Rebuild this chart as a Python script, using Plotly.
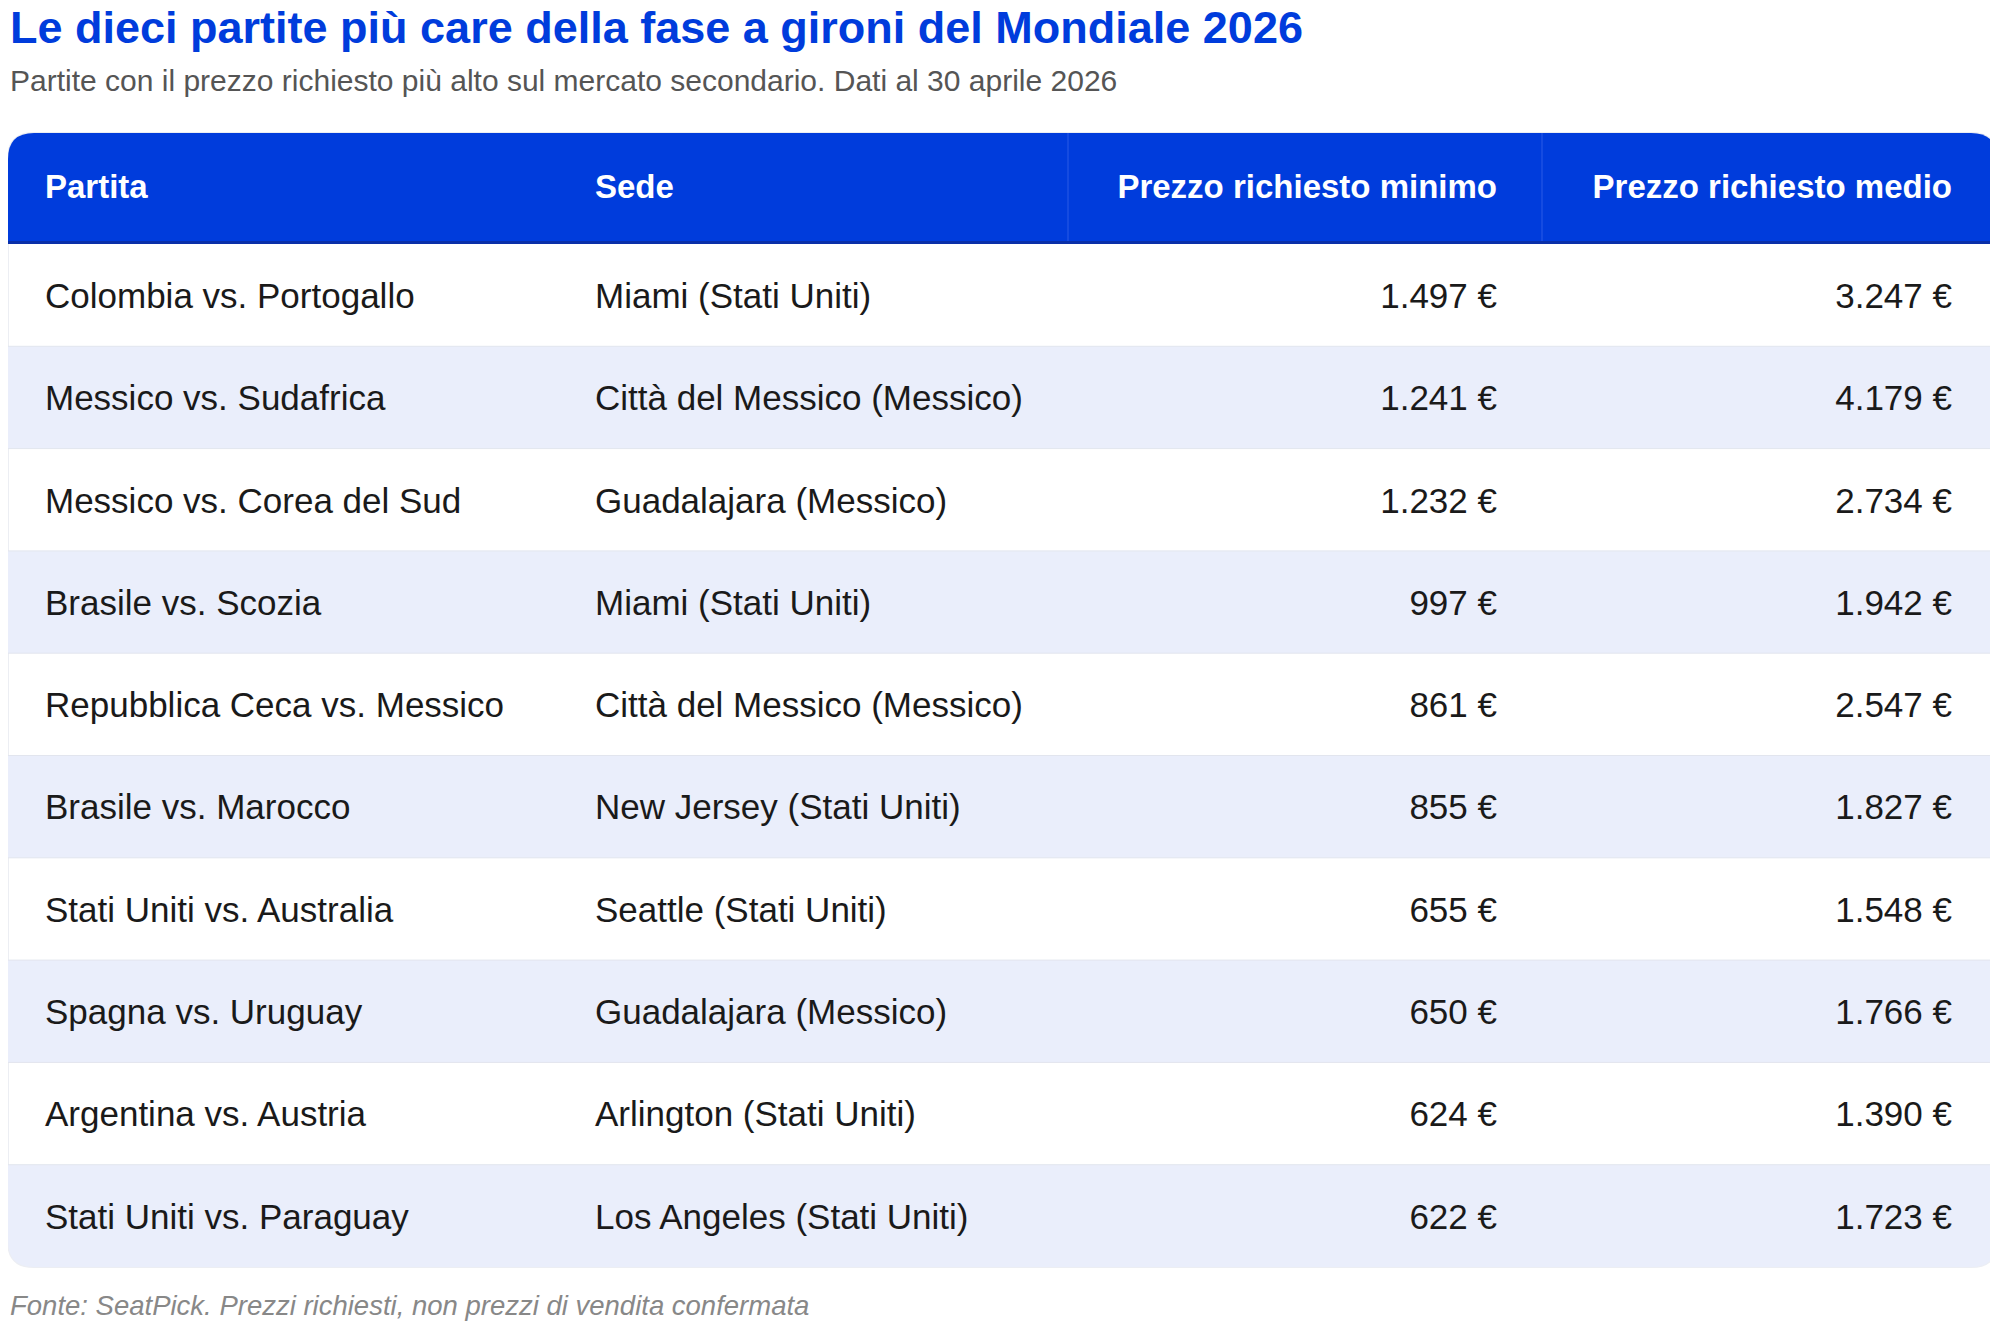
import plotly.graph_objects as go

partite = ["Colombia vs. Portogallo", "Messico vs. Sudafrica", "Messico vs. Corea del Sud",
           "Brasile vs. Scozia", "Repubblica Ceca vs. Messico", "Brasile vs. Marocco",
           "Stati Uniti vs. Australia", "Spagna vs. Uruguay", "Argentina vs. Austria",
           "Stati Uniti vs. Paraguay"]
sedi = ["Miami (Stati Uniti)", "Città del Messico (Messico)", "Guadalajara (Messico)",
        "Miami (Stati Uniti)", "Città del Messico (Messico)", "New Jersey (Stati Uniti)",
        "Seattle (Stati Uniti)", "Guadalajara (Messico)", "Arlington (Stati Uniti)",
        "Los Angeles (Stati Uniti)"]
prezzo_min = ["1.497 €", "1.241 €", "1.232 €", "997 €", "861 €", "855 €", "655 €", "650 €", "624 €", "622 €"]
prezzo_medio = ["3.247 €", "4.179 €", "2.734 €", "1.942 €", "2.547 €", "1.827 €", "1.548 €", "1.766 €", "1.390 €", "1.723 €"]
headers = ["Partita", "Sede", "Prezzo richiesto minimo", "Prezzo richiesto medio"]

W, H = 1998, 1323
OFF = 8  # page body margin, so axis units equal window pixels
BLUE = "#003cdc"
LAV = "#eaeefb"
FONT = "Liberation Sans"

# layout in window pixel units (y axis reversed)
X0, X1 = OFF, 1997
HEAD_T, HEAD_B = 133, 244
ROW_H = 102.3
R = 26
TXT_DY = 4  # optical nudge for text baseline
col_x = [45, 595, 1497, 1952]
col_align = ["left", "left", "right", "right"]
seps = [1068, 1542]

n = len(partite)
bottom = HEAD_B + n * ROW_H
centers = [HEAD_B + (i + 0.5) * ROW_H + TXT_DY for i in range(n)]

shapes = []
# faint outline / shadow of the whole card
shapes.append(dict(type="path", layer="below",
                   path=f"M{X0},{HEAD_T+R} Q{X0},{HEAD_T} {X0+R},{HEAD_T} L{X1-R},{HEAD_T} Q{X1},{HEAD_T} {X1},{HEAD_T+R} "
                        f"L{X1},{bottom-R} Q{X1},{bottom} {X1-R},{bottom} L{X0+R},{bottom} Q{X0},{bottom} {X0},{bottom-R} Z",
                   fillcolor="white", line=dict(color="#eceef3", width=2)))
# row fills
for i in range(n):
    top = HEAD_B + i * ROW_H
    bot = top + ROW_H
    if i % 2 == 1:
        if i == n - 1:
            shapes.append(dict(type="path", layer="below",
                               path=f"M{X0},{top} L{X1},{top} L{X1},{bot-R} Q{X1},{bot} {X1-R},{bot} "
                                    f"L{X0+R},{bot} Q{X0},{bot} {X0},{bot-R} Z",
                               fillcolor=LAV, line=dict(width=0)))
        else:
            shapes.append(dict(type="rect", layer="below", x0=X0, x1=X1, y0=top, y1=bot,
                               fillcolor=LAV, line=dict(width=0)))
    if i > 0:
        shapes.append(dict(type="line", layer="below", x0=X0, x1=X1, y0=top, y1=top,
                           line=dict(color="#e2e5ee", width=1)))
# header
shapes.append(dict(type="path", layer="below",
                   path=f"M{X0},{HEAD_B} L{X0},{HEAD_T+R} Q{X0},{HEAD_T} {X0+R},{HEAD_T} L{X1-R},{HEAD_T} "
                        f"Q{X1},{HEAD_T} {X1},{HEAD_T+R} L{X1},{HEAD_B} Z",
                   fillcolor=BLUE, line=dict(width=0)))
shapes.append(dict(type="line", layer="below", x0=X0, x1=X1, y0=HEAD_B - 1.5, y1=HEAD_B - 1.5,
                   line=dict(color="#0a2fa8", width=3)))
for sx in seps:
    shapes.append(dict(type="line", layer="below", x0=sx, x1=sx, y0=HEAD_T, y1=HEAD_B - 3,
                       line=dict(color="#2a5ae6", width=1)))

fig = go.Figure()
head_y = (HEAD_T + HEAD_B) / 2 + 1
columns = [partite, sedi, prezzo_min, prezzo_medio]
for j, col in enumerate(columns):
    pos = "middle right" if col_align[j] == "left" else "middle left"
    fig.add_trace(go.Scatter(x=[col_x[j]], y=[head_y], mode="text", text=["<b>" + headers[j] + "</b>"],
                             textposition=pos, textfont=dict(family=FONT, size=33, color="white"),
                             hoverinfo="skip", showlegend=False))
    fig.add_trace(go.Scatter(x=[col_x[j]] * n, y=centers, mode="text", text=col,
                             textposition=pos, textfont=dict(family=FONT, size=35, color="#1a1a1a"),
                             hoverinfo="skip", showlegend=False))

fig.update_layout(
    width=W, height=H,
    margin=dict(l=0, r=0, t=0, b=0),
    paper_bgcolor="white", plot_bgcolor="white",
    xaxis=dict(range=[OFF, W + OFF], visible=False, fixedrange=True),
    yaxis=dict(range=[H + OFF, OFF], visible=False, fixedrange=True),
    shapes=shapes,
    annotations=[
        dict(text="<b>Le dieci partite più care della fase a gironi del Mondiale 2026</b>",
             x=OFF, y=27, xref="x", yref="y", xanchor="left", yanchor="middle",
             showarrow=False, font=dict(family=FONT, size=45, color=BLUE)),
        dict(text="Partite con il prezzo richiesto più alto sul mercato secondario. Dati al 30 aprile 2026",
             x=OFF, y=80, xref="x", yref="y", xanchor="left", yanchor="middle",
             showarrow=False, font=dict(family=FONT, size=30, color="#555555")),
        dict(text="<i>Fonte: SeatPick. Prezzi richiesti, non prezzi di vendita confermata</i>",
             x=OFF, y=1305, xref="x", yref="y", xanchor="left", yanchor="middle",
             showarrow=False, font=dict(family=FONT, size=27.5, color="#888888")),
    ],
)

fig.write_html("out.html")
